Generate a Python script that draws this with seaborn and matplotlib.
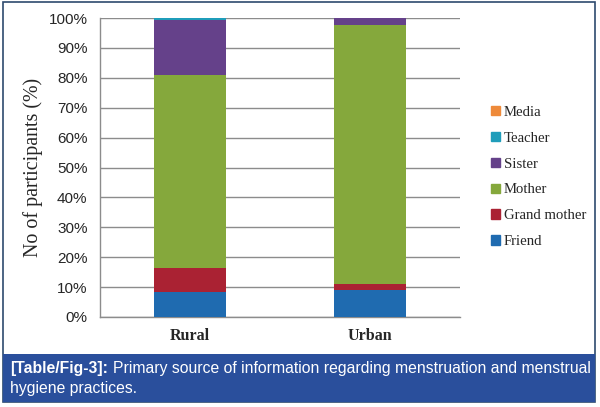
import numpy as np
import pandas as pd
import matplotlib.pyplot as plt
import matplotlib.patches as mpatches
import seaborn as sns

# -----------------------------
# DATA (percent of participants)
# -----------------------------
areas = ["Rural", "Urban"]
sources = ["Friend", "Grand mother", "Mother", "Sister", "Teacher", "Media"]
rural = [8.2, 8.2, 64.5, 18.3, 0.8, 0.0]
urban = [8.9, 2.0, 86.6, 2.5, 0.0, 0.0]
colors = ["#1F6BB0", "#AA2233", "#85A83C", "#65418A", "#1F9DBA", "#EE8A3A"]
yticks = [0, 10, 20, 30, 40, 50, 60, 70, 80, 90, 100]

df = pd.DataFrame({"Rural": rural, "Urban": urban}, index=sources)
cum = df.cumsum()

sns.set_style("white")
fig = plt.figure(figsize=(6, 4.07), dpi=100)
ax = fig.add_axes([100 / 600, 1 - 317 / 407, 360 / 600, 299 / 407])

# draw cumulative layers from the top down so each one shows its own share
for src, col in reversed(list(zip(sources, colors))):
    layer = pd.DataFrame({"area": areas, "val": cum.loc[src, areas].values})
    sns.barplot(data=layer, x="area", y="val", color=col, width=0.4,
                saturation=1, ax=ax, zorder=3, edgecolor="none")

ax.set_xlim(-0.5, 1.5)
ax.set_ylim(0, 100)
ax.set_yticks(yticks)
ax.set_yticklabels([f"{t}%" for t in yticks], fontsize=11,
                   family="Liberation Sans")
ax.yaxis.grid(True, color="#8C8C8C", linewidth=1.0, zorder=0)
ax.set_axisbelow(True)
ax.tick_params(axis="y", length=3, color="#8C8C8C", pad=6)

ax.set_xticks([0, 1])
ax.set_xticklabels(areas, fontsize=11.5, fontweight="bold",
                   family="Liberation Serif")
ax.set_xticks([-0.5, 0.5, 1.5], minor=True)
ax.tick_params(axis="x", which="major", length=0, pad=8)
ax.tick_params(axis="x", which="minor", length=4, color="#8C8C8C",
               direction="out")
ax.set_xlabel("")
ax.set_ylabel("No of participants (%)", fontsize=14.4,
              family="Liberation Serif")
ax.yaxis.set_label_coords(-57 / 360, 0.5)

sns.despine(ax=ax, top=True, right=True)
for side in ["left", "bottom"]:
    ax.spines[side].set_color("#8C8C8C")
    ax.spines[side].set_linewidth(1.0)

handles = [mpatches.Patch(color=c, label=s) for s, c in zip(sources, colors)]
leg = fig.legend(handles=handles[::-1], loc="center left",
                 bbox_to_anchor=(478 / 600, 1 - 177 / 407), frameon=False,
                 prop={"family": "Liberation Serif", "size": 10.6},
                 handlelength=0.6, handleheight=0.6, handletextpad=0.25,
                 labelspacing=0.87)

# outer border and caption box
fig.patches.append(mpatches.Rectangle((3 / 600, 5 / 407), 592 / 600, 400 / 407,
                                      transform=fig.transFigure, fill=False,
                                      edgecolor="#2E4A6E", linewidth=1.2))
fig.patches.append(mpatches.Rectangle((3 / 600, 5 / 407), 592 / 600, 48 / 407,
                                      transform=fig.transFigure,
                                      facecolor="#2A4F9C", edgecolor="none"))
t1 = fig.text(10 / 600, 1 - 368 / 407, "[Table/Fig-3]:", color="white",
              fontsize=11.3, fontweight="bold", va="center",
              family="Liberation Sans")
fig.canvas.draw()
bb = t1.get_window_extent()
fig.text((bb.x1 + 5) / 600, 1 - 368 / 407,
         "Primary source of information regarding menstruation and menstrual",
         color="white", fontsize=11.3, va="center", family="Liberation Sans")
fig.text(10 / 600, 1 - 388 / 407, "hygiene practices.", color="white",
         fontsize=11.3, va="center", family="Liberation Sans")

fig.savefig("out.png", dpi=100)
